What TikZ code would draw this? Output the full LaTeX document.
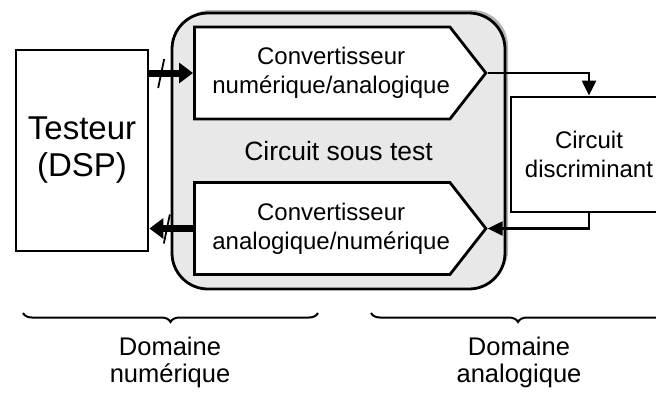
\documentclass[tikz,border=0pt]{standalone}
\usepackage{fontspec}
\setmainfont{Liberation Sans}
\usetikzlibrary{shapes.symbols,arrows.meta,shadows,decorations.pathreplacing,calc}
\definecolor{fondcst}{HTML}{E8E8E8}
\definecolor{ombre}{HTML}{B4B4B4}

\begin{document}
\begin{tikzpicture}[x=1pt,y=-1pt,
    bloc/.style={draw,line width=2.8pt,fill=white,align=center,inner sep=0pt},
    conv/.style={bloc,shape=signal,signal to=east,signal pointer angle=104,anchor=west,
      minimum width=285pt,minimum height=92pt,font=\fontsize{24}{29}\selectfont},
    bus/.style={line width=7pt,-{Triangle[length=14pt,width=20pt]}},
    liaison/.style={line width=2.2pt,-{Triangle[length=15pt,width=14pt]}},
    accolade/.style={decorate,decoration={brace,amplitude=9pt},line width=2pt},
    domaine/.style={align=center,font=\fontsize{25.5}{27}\selectfont}]
    \useasboundingbox (0,0) rectangle (656,394);
    \clip (0,0) rectangle (656,394);
    % circuit sous test
    \node[draw,line width=2.8pt,fill=fondcst,rounded corners=36pt,
      minimum width=333pt,minimum height=276pt,font=\fontsize{26.5}{30}\selectfont,
      drop shadow={shadow xshift=3pt,shadow yshift=3pt,fill=ombre,opacity=1}] (cst) at (338.5,151) {Circuit sous test};
    \node[conv] (can) at (193,73) {\hspace*{18pt}Convertisseur\\\hspace*{18pt}num\'erique/analogique};
    \node[conv] (cna) at (193,228.5) {\hspace*{18pt}Convertisseur\\\hspace*{18pt}analogique/num\'erique};
    % testeur et circuit discriminant
    \node[bloc,minimum width=132pt,minimum height=201pt,font=\fontsize{33}{37}\selectfont] (testeur) at (82,150.5) {Testeur\\(DSP)};
    \node[bloc,minimum width=156pt,minimum height=115pt,font=\fontsize{24}{29}\selectfont] (discr) at (589,154.5) {Circuit\\discriminant};
    % bus numeriques
    \draw[bus] (testeur.east |- can.west) -- (can.west);
    \draw[bus] (cna.west) -- (testeur.east |- cna.west);
    \coordinate (busa) at ($(testeur.east |- can.west)!0.27!(can.west)$);
    \coordinate (busb) at ($(testeur.east |- cna.west)!0.4!(cna.west)$);
    \draw[line width=1.8pt] (busa) ++(3,-14) -- ++(-6,29);
    \draw[line width=1.8pt] (busb) ++(3,-14) -- ++(-6,29);
    % liaisons analogiques
    \draw[liaison] (can.east) -| (discr.north);
    \draw[liaison] (discr.south) |- (cna.east);
    % domaines
    \draw[accolade] (318,313) -- (23,313);
    \draw[accolade] (665,313) -- (371,313);
    \node[domaine] (domnum) at (170,362) {Domaine\\num\'erique};
    \node[domaine] (domana) at (519,362) {Domaine\\analogique};
  \end{tikzpicture}
\end{document}
